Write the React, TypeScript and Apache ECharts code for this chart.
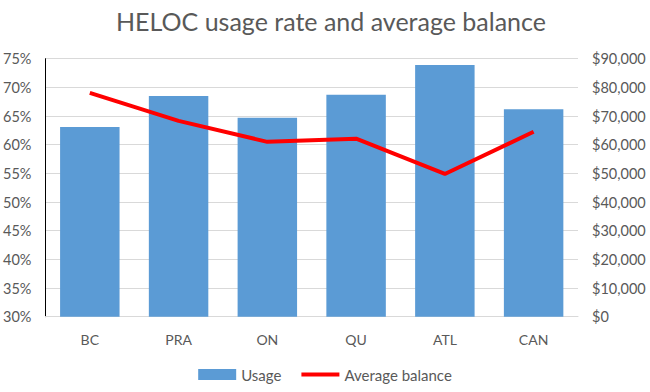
import React, { useEffect, useRef } from "react";
import * as echarts from "echarts";

const categories = ["BC", "PRA", "ON", "QU", "ATL", "CAN"];
const usage = [63.1, 68.5, 64.7, 68.7, 73.9, 66.2];
const avgBalance = [78100, 68300, 61000, 62100, 49800, 64500];

const FONT = "Lato";

export default function App() {
  const ref = useRef<HTMLDivElement>(null);
  useEffect(() => {
    if (!ref.current) return;
    const chart = echarts.init(ref.current, null, { renderer: "svg" });
    chart.setOption({
      animation: false,
      title: {
        text: "HELOC usage rate and average balance",
        left: 111,
        top: 3,
        textStyle: { fontFamily: FONT, fontSize: 25, fontWeight: "normal", color: "#595959" },
      },
      legend: {
        bottom: 5,
        left: "center",
        itemWidth: 38,
        itemHeight: 11,
        itemGap: 20,
        textStyle: { fontFamily: FONT, fontSize: 15, color: "#595959" },
        data: [
          { name: "Usage", icon: "rect" },
          { name: "Average balance", icon: "path://M0,0 H38 V4 H0 Z" },
        ],
      },
      grid: { left: 45, right: 72, top: 58.7, bottom: 75.3 },
      xAxis: {
        type: "category",
        data: categories,
        axisTick: { show: false },
        axisLine: { lineStyle: { color: "#d9d9d9" } },
        axisLabel: { fontFamily: FONT, fontSize: 14, color: "#595959", margin: 16 },
      },
      yAxis: [
        {
          type: "value",
          min: 30,
          max: 75,
          interval: 5,
          axisLine: { show: true, lineStyle: { color: "#000000" } },
          axisTick: { show: false },
          splitLine: { lineStyle: { color: "#d9d9d9" } },
          axisLabel: { formatter: "{value}%", fontFamily: FONT, fontSize: 14.5, color: "#595959", margin: 14 },
        },
        {
          type: "value",
          min: 0,
          max: 90000,
          interval: 10000,
          axisLine: { show: false },
          axisTick: { show: false },
          splitLine: { show: false },
          axisLabel: {
            formatter: (v: number) => "$" + v.toLocaleString("en-US"),
            fontFamily: FONT,
            fontSize: 14.5,
            color: "#595959",
            margin: 14,
          },
        },
      ],
      series: [
        {
          name: "Usage",
          type: "bar",
          data: usage,
          barCategoryGap: "33%",
          itemStyle: { color: "#5B9BD5" },
        },
        {
          name: "Average balance",
          type: "line",
          yAxisIndex: 1,
          data: avgBalance,
          symbol: "none",
          lineStyle: { color: "#FF0000", width: 4 },
          itemStyle: { color: "#FF0000" },
        },
      ],
    });
    return () => chart.dispose();
  }, []);
  return (
    <div
      ref={ref}
      style={{ position: "absolute", left: 0, top: 0, width: 650, height: 392 }}
    />
  );
}
